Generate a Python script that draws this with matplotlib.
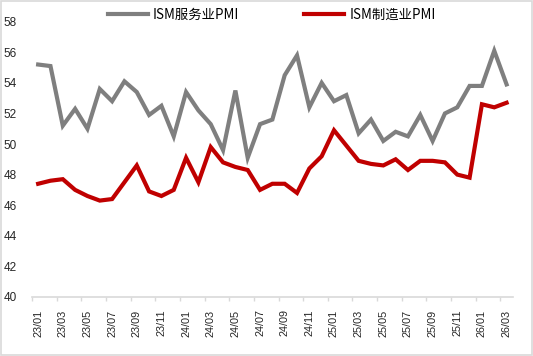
import numpy as np
import matplotlib.pyplot as plt
from matplotlib.patches import Rectangle

plt.rcParams['font.family'] = ['Liberation Sans', 'Noto Sans CJK SC', 'DejaVu Sans']

# ---- data ----
months = ['23/01', '23/02', '23/03', '23/04', '23/05', '23/06', '23/07', '23/08',
          '23/09', '23/10', '23/11', '23/12', '24/01', '24/02', '24/03', '24/04',
          '24/05', '24/06', '24/07', '24/08', '24/09', '24/10', '24/11', '24/12',
          '25/01', '25/02', '25/03', '25/04', '25/05', '25/06', '25/07', '25/08',
          '25/09', '25/10', '25/11', '25/12', '26/01', '26/02', '26/03']

services = [55.2, 55.1, 51.2, 52.3, 51.0, 53.6, 52.8, 54.1, 53.4, 51.9, 52.5, 50.5,
            53.4, 52.2, 51.3, 49.6, 53.5, 49.1, 51.3, 51.6, 54.5, 55.8, 52.4, 54.0,
            52.8, 53.2, 50.7, 51.6, 50.2, 50.8, 50.5, 51.9, 50.2, 52.0, 52.4, 53.8,
            53.8, 56.1, 53.9]

manufacturing = [47.4, 47.6, 47.7, 47.0, 46.6, 46.3, 46.4, 47.5, 48.6, 46.9, 46.6, 47.0,
                 49.1, 47.5, 49.8, 48.8, 48.5, 48.3, 47.0, 47.4, 47.4, 46.8, 48.4, 49.2,
                 50.9, 49.9, 48.9, 48.7, 48.6, 49.0, 48.3, 48.9, 48.9, 48.8, 48.0, 47.8,
                 52.6, 52.4, 52.7]

x = np.arange(len(months))

fig = plt.figure(figsize=(5.33, 3.56), dpi=100)
ax = fig.add_axes([0.060, 0.166, 0.902, 0.773])

ax.plot(x, services, color='#7F7F7F', lw=3.0, label='ISM服务业PMI', solid_joinstyle='miter')
ax.plot(x, manufacturing, color='#C00000', lw=3.0, label='ISM制造业PMI', solid_joinstyle='miter')

ax.set_xlim(-0.5, len(months) - 0.5)
ax.set_ylim(40, 58)
ax.set_yticks(np.arange(40, 59, 2))
ax.tick_params(axis='y', length=0, pad=11, labelsize=8.5, labelcolor='#262626')

# category labels every 2 months, tick marks between categories
ax.set_xticks(x[::2])
ax.set_xticklabels(months[::2], rotation=90, fontsize=7.8, color='#262626')
ax.set_xticks(np.arange(-0.5, len(months) - 1, 2), minor=True)
ax.tick_params(axis='x', which='major', length=0, pad=9)
ax.tick_params(axis='x', which='minor', length=3, color='#D9D9D9', width=1)

for s in ['left', 'right', 'top']:
    ax.spines[s].set_visible(False)
ax.spines['bottom'].set_color('#D9D9D9')
ax.spines['bottom'].set_linewidth(1.2)

ax.legend(loc='center', bbox_to_anchor=(0.51, 0.959), bbox_transform=fig.transFigure,
          ncol=2, frameon=False, handlelength=3.0, columnspacing=4.9,
          handletextpad=0.35, prop={'family': ['Noto Sans CJK SC', 'DejaVu Sans'], 'size': 9.6})

# outer frame
fig.patches.append(Rectangle((0.002, 0.003), 0.996, 0.994, transform=fig.transFigure,
                             fill=False, edgecolor='#D9D9D9', lw=1.2))

plt.savefig('out.png', dpi=100)
